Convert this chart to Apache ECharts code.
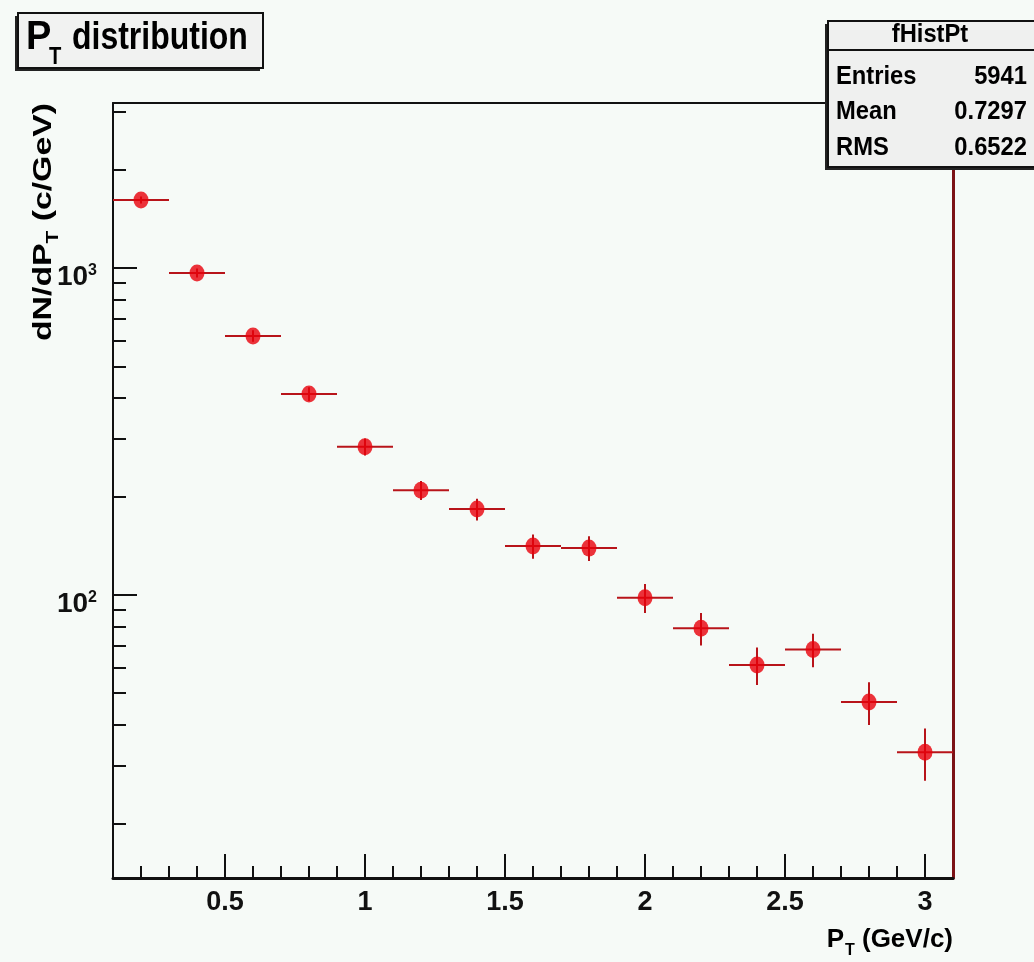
<!DOCTYPE html>
<html>
<head>
<meta charset="utf-8">
<title>PT distribution</title>
<script src="https://cdn.jsdelivr.net/npm/echarts@6/dist/echarts.min.js"></script>
<style>
  html, body { margin: 0; padding: 0; background: #f6faf7; }
  #chart { width: 1034px; height: 962px; }
</style>
</head>
<body>
<div id="chart"></div>
<script>
// bin centres in GeV/c, every bin 0.2 wide
const ptBins = [0.2, 0.4, 0.6, 0.8, 1.0, 1.2, 1.4, 1.6, 1.8, 2.0, 2.2, 2.4, 2.6, 2.8, 3.0]
const dndpt = [1615, 966, 620, 412, 284, 209, 183, 141, 139, 98, 79, 61, 68, 47, 33]
const dndptErr = [40, 31, 25, 20, 17, 14, 14, 12, 12, 10, 9, 8, 8, 7, 6]
const binWidth = 0.2

const xMajorTicks = [0.5, 1, 1.5, 2, 2.5, 3]
const xMinorTicks = [0.2, 0.3, 0.4, 0.6, 0.7, 0.8, 0.9, 1.1, 1.2, 1.3, 1.4, 1.6, 1.7, 1.8, 1.9,
  2.1, 2.2, 2.3, 2.4, 2.6, 2.7, 2.8, 2.9]
const yMajorTicks = [100, 1000]
const yMinorTicks = [20, 30, 40, 50, 60, 70, 80, 90, 200, 300, 400, 500, 600, 700, 800, 900, 2000, 3000]

const statTitle = 'fHistPt'
const statNames = ['Entries', 'Mean', 'RMS']
const statValues = ['5941', '0.7297', '0.6522']

const xRange = [0.1, 3.1]
const yRange = [13.6, 3200]

const FONT = "'Liberation Sans', Arial, Helvetica, sans-serif"
const INK = '#111'

let chart = echarts.init(document.getElementById('chart'))

function renderErrorBar (params, api) {
  let x = api.value(0)
  let y = api.value(1)
  let e = api.value(2)
  let l = api.coord([x - binWidth / 2, y])
  let r = api.coord([x + binWidth / 2, y])
  let t = api.coord([x, y + e])
  let b = api.coord([x, y - e])
  let style = { stroke: '#b8141a', lineWidth: 2 }
  return {
    type: 'group',
    children: [
      { type: 'line', shape: { x1: l[0], y1: l[1], x2: r[0], y2: r[1] }, style: style },
      { type: 'line', shape: { x1: t[0], y1: t[1], x2: b[0], y2: b[1] }, style: style }
    ]
  }
}

function txt (text, x, y, size, opts) {
  opts = opts || {}
  return {
    type: 'text',
    x: x,
    y: y,
    scaleX: opts.scaleX || 1,
    rotation: opts.rotation || 0,
    z: 100,
    style: {
      text: text,
      fill: '#000',
      font: 'bold ' + size + 'px ' + FONT,
      textAlign: opts.align || 'left',
      textVerticalAlign: 'middle',
      rich: opts.rich
    }
  }
}

let statRows = []
statNames.forEach(function (name, i) {
  let y = 77 + i * 35.5
  statRows.push(txt(name, 836, y, 25, { scaleX: 0.95 }))
  statRows.push(txt(statValues[i], 1027, y, 25, { align: 'right', scaleX: 0.95 }))
})

let option = {
  backgroundColor: '#f6faf7',
  animation: false,
  grid: { left: 113, right: 81, top: 103, bottom: 84 },
  xAxis: [
    {
      type: 'value',
      min: xRange[0],
      max: xRange[1],
      position: 'bottom',
      axisLine: { onZero: false, lineStyle: { color: INK, width: 3 } },
      axisTick: { inside: true, length: 24, customValues: xMajorTicks, lineStyle: { color: INK, width: 2 } },
      axisLabel: {
        customValues: xMajorTicks,
        margin: 11,
        color: INK,
        fontSize: 27,
        fontWeight: 'bold',
        fontFamily: FONT
      },
      splitLine: { show: false }
    },
    {
      type: 'value',
      min: xRange[0],
      max: xRange[1],
      position: 'bottom',
      axisLine: { show: false, onZero: false },
      axisTick: { inside: true, length: 12, customValues: xMinorTicks, lineStyle: { color: INK, width: 2 } },
      axisLabel: { show: false },
      splitLine: { show: false }
    },
    {
      type: 'value',
      min: xRange[0],
      max: xRange[1],
      position: 'top',
      axisLine: { onZero: false, lineStyle: { color: INK, width: 2 } },
      axisTick: { show: false },
      axisLabel: { show: false },
      splitLine: { show: false }
    }
  ],
  yAxis: [
    {
      type: 'log',
      logBase: 10,
      min: yRange[0],
      max: yRange[1],
      position: 'left',
      axisLine: { lineStyle: { color: INK, width: 2 } },
      axisTick: { inside: true, length: 24, customValues: yMajorTicks, lineStyle: { color: INK, width: 2 } },
      axisLabel: {
        customValues: yMajorTicks,
        margin: 16,
        verticalAlign: 'middle',
        padding: [18, 0, 0, 0],
        formatter: function (v) {
          return '{b|10}{s|' + Math.round(Math.log10(v)) + '}'
        },
        rich: {
          b: { fontSize: 28, fontWeight: 'bold', fontFamily: FONT, color: INK, lineHeight: 28 },
          s: { fontSize: 16, fontWeight: 'bold', fontFamily: FONT, color: INK, lineHeight: 16, verticalAlign: 'top' }
        }
      },
      splitLine: { show: false }
    },
    {
      type: 'log',
      logBase: 10,
      min: yRange[0],
      max: yRange[1],
      position: 'left',
      axisLine: { show: false },
      axisTick: { inside: true, length: 13, customValues: yMinorTicks, lineStyle: { color: INK, width: 2 } },
      axisLabel: { show: false },
      splitLine: { show: false }
    },
    {
      type: 'log',
      logBase: 10,
      min: yRange[0],
      max: yRange[1],
      position: 'right',
      axisLine: { lineStyle: { color: '#7c1216', width: 3 } },
      axisTick: { show: false },
      axisLabel: { show: false },
      splitLine: { show: false }
    }
  ],
  series: [
    {
      name: 'errors',
      type: 'custom',
      xAxisIndex: 0,
      yAxisIndex: 0,
      renderItem: renderErrorBar,
      encode: { x: 0, y: 1 },
      data: ptBins.map(function (x, i) { return [x, dndpt[i], dndptErr[i]] }),
      z: 2
    },
    {
      name: 'fHistPt',
      type: 'scatter',
      xAxisIndex: 0,
      yAxisIndex: 0,
      symbol: 'circle',
      symbolSize: [15, 17],
      itemStyle: { color: '#e8000a' },
      data: ptBins.map(function (x, i) { return [x, dndpt[i]] }),
      z: 3
    }
  ],
  graphic: [
    // title pave
    { type: 'rect', shape: { x: 15, y: 16, width: 245, height: 55 }, style: { fill: '#222' }, z: 90 },
    { type: 'rect', shape: { x: 18, y: 13, width: 245, height: 55 }, style: { fill: '#f1f2f1', stroke: INK, lineWidth: 2 }, z: 91 },
    txt('P', 26, 38, 40, { scaleX: 0.95 }),
    txt('T', 49, 57, 24, { scaleX: 0.84 }),
    txt('distribution', 72, 38, 39, { scaleX: 0.82 }),
    // stats box
    { type: 'rect', shape: { x: 825, y: 24, width: 220, height: 146 }, style: { fill: '#222' }, z: 90 },
    { type: 'rect', shape: { x: 828, y: 21, width: 220, height: 146 }, style: { fill: '#eff0ef', stroke: INK, lineWidth: 2 }, z: 91 },
    { type: 'line', shape: { x1: 828, y1: 50, x2: 1034, y2: 50 }, style: { stroke: INK, lineWidth: 2 }, z: 92 },
    txt(statTitle, 930, 35, 25, { align: 'center', scaleX: 0.95 })
  ].concat(statRows).concat([
    // axis titles
    txt('{a|dN/dP}{s|T}{a| (c/GeV)}', 44, 103, 26, {
      align: 'right',
      rotation: Math.PI / 2,
      scaleX: 1.3,
      rich: {
        a: { fontSize: 26, fontWeight: 'bold', fontFamily: FONT, lineHeight: 26, fill: '#000' },
        s: { fontSize: 16, fontWeight: 'bold', fontFamily: FONT, lineHeight: 16, padding: [20, 0, 0, 0], fill: '#000' }
      }
    }),
    txt('(GeV/c)', 953, 940, 26, { align: 'right' }),
    txt('P', 844, 940, 26, { align: 'right' }),
    txt('T', 845, 951, 16)
  ])
}

chart.setOption(option)
</script>
</body>
</html>
